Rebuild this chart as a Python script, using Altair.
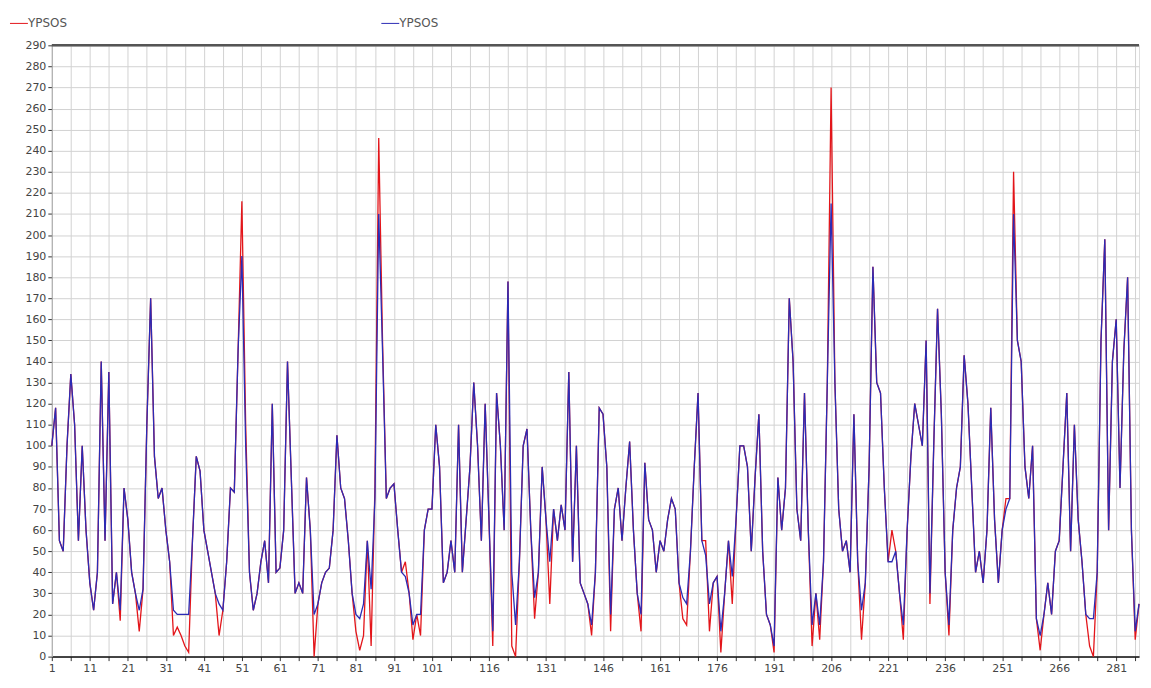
import altair as alt
import pandas as pd

# ---- data ----
index = list(range(1, 288))

blue = [
    100, 118, 55, 50, 100, 134, 110, 55, 100, 60,
    35, 22, 40, 140, 55, 135, 25, 40, 22, 80,
    65, 40, 30, 22, 32, 110, 170, 95, 75, 80,
    60, 45, 22, 20, 20, 20, 20, 55, 95, 88,
    60, 50, 40, 30, 25, 22, 45, 80, 78, 145,
    190, 100, 40, 22, 30, 45, 55, 35, 120, 40,
    42, 60, 140, 85, 30, 35, 30, 85, 60, 20,
    25, 35, 40, 42, 60, 105, 80, 75, 55, 30,
    20, 18, 25, 55, 32, 75, 210, 145, 75, 80,
    82, 60, 40, 38, 30, 15, 20, 20, 60, 70,
    70, 110, 90, 35, 40, 55, 40, 110, 40, 65,
    90, 130, 100, 55, 120, 65, 12, 125, 100, 60,
    178, 40, 15, 45, 100, 108, 60, 28, 40, 90,
    65, 45, 70, 55, 72, 60, 135, 45, 100, 35,
    30, 25, 15, 40, 118, 115, 90, 20, 70, 80,
    55, 80, 102, 60, 30, 20, 92, 65, 60, 40,
    55, 50, 65, 75, 70, 35, 28, 25, 50, 90,
    125, 55, 48, 25, 35, 38, 12, 30, 55, 38,
    65, 100, 100, 90, 50, 85, 115, 50, 20, 15,
    5, 85, 60, 80, 170, 140, 70, 55, 125, 60,
    15, 30, 15, 45, 130, 215, 130, 70, 50, 55,
    40, 115, 45, 22, 35, 90, 185, 130, 125, 80,
    45, 45, 50, 30, 15, 60, 95, 120, 110, 100,
    150, 30, 100, 165, 115, 40, 15, 60, 80, 90,
    143, 120, 80, 40, 50, 35, 60, 118, 65, 35,
    60, 70, 75, 210, 150, 140, 90, 75, 100, 18,
    10, 20, 35, 20, 50, 55, 90, 125, 50, 110,
    65, 45, 20, 18, 18, 40, 150, 198, 60, 140,
    160, 80, 145, 180, 60, 12, 25,
]

red = [
    100, 118, 55, 50, 100, 134, 110, 55, 100, 60,
    35, 22, 40, 140, 55, 135, 25, 40, 17, 80,
    65, 40, 30, 12, 32, 110, 170, 95, 75, 80,
    60, 45, 10, 14, 10, 5, 2, 55, 95, 88,
    60, 50, 40, 30, 10, 22, 45, 80, 78, 145,
    216, 110, 40, 22, 30, 45, 55, 35, 120, 40,
    42, 60, 140, 85, 30, 35, 30, 85, 60, 0,
    25, 35, 40, 42, 60, 105, 80, 75, 55, 30,
    12, 3, 10, 55, 5, 80, 246, 150, 75, 80,
    82, 60, 40, 45, 30, 8, 20, 10, 60, 70,
    70, 110, 90, 35, 40, 55, 40, 110, 40, 65,
    90, 130, 100, 55, 120, 65, 5, 125, 100, 60,
    178, 5, 0, 45, 100, 108, 60, 18, 40, 90,
    65, 25, 70, 55, 72, 60, 135, 45, 100, 35,
    30, 25, 10, 40, 118, 115, 90, 12, 70, 80,
    55, 80, 102, 60, 30, 12, 92, 65, 60, 40,
    55, 50, 65, 75, 70, 35, 18, 15, 50, 90,
    125, 55, 55, 12, 35, 38, 2, 30, 55, 25,
    65, 100, 100, 90, 50, 85, 115, 50, 20, 15,
    2, 85, 60, 80, 170, 140, 70, 55, 125, 60,
    5, 30, 8, 45, 130, 270, 130, 70, 50, 55,
    40, 115, 45, 8, 35, 90, 185, 130, 125, 80,
    45, 60, 50, 30, 8, 60, 95, 120, 110, 100,
    150, 25, 100, 165, 115, 40, 10, 60, 80, 90,
    143, 120, 80, 40, 50, 35, 60, 118, 65, 35,
    60, 75, 75, 230, 150, 140, 90, 75, 100, 18,
    3, 20, 35, 20, 50, 55, 90, 125, 50, 110,
    65, 45, 20, 5, 0, 40, 150, 198, 60, 140,
    160, 80, 145, 180, 60, 8, 25,
]

x_label_values = [1, 11, 21, 31, 41, 51, 61, 71, 81, 91, 101,
                  116, 131, 146, 161, 176, 191, 206, 221, 236, 251, 266, 281]
x_tick_values = list(range(1, 288, 5))
y_tick_values = list(range(0, 291, 10))
legend_names = ["YPSOS", "YPSOS"]
series_colors = ["#e3151a", "#2b2bb5"]

# ---- chart ----
df_red = pd.DataFrame({"i": index, "v": red})
df_blue = pd.DataFrame({"i": index, "v": blue})

label_list = ",".join(str(v) for v in x_label_values)
x_scale = alt.Scale(domain=[1, 287], nice=False, zero=False)
y_scale = alt.Scale(domain=[0, 290], nice=False)
x_axis = alt.Axis(
    values=x_tick_values,
    labelExpr=f"indexof([{label_list}], datum.value) >= 0 ? datum.label : ''",
    title=None, grid=True, gridColor="#d2d2d2", gridWidth=1,
    domainColor="#111111", domainWidth=1.5,
    tickColor="#333333", tickSize=4,
    labelFont="DejaVu Sans", labelFontSize=11, labelColor="#444444",
    labelPadding=2, labelFlush=False, labelOverlap=False,
)
y_axis = alt.Axis(
    values=y_tick_values, title=None, grid=True,
    gridColor="#d2d2d2", gridWidth=1,
    domainColor="#aaaaaa", tickColor="#333333", tickSize=4,
    labelFont="DejaVu Sans", labelFontSize=11, labelColor="#444444",
    labelPadding=2, labelOverlap=False, labelFlush=False,
)

def xe():
    return alt.X("i:Q", scale=x_scale, axis=x_axis)

def ye():
    return alt.Y("v:Q", scale=y_scale, axis=y_axis)

red_line = alt.Chart(df_red).mark_line(color=series_colors[0], strokeWidth=1.3).encode(x=xe(), y=ye())
blue_line = alt.Chart(df_blue).mark_line(color=series_colors[1], strokeWidth=1.3).encode(x=xe(), y=ye())

top_border = alt.Chart(pd.DataFrame({"v": [290]})).mark_rule(
    color="#555555", strokeWidth=2.5
).encode(y=ye())

leg_df = pd.DataFrame({"name": legend_names})
leg_layers = []
for k, (lx, tx) in enumerate([(-42, -24), (331, 349)]):
    leg_layers.append(
        alt.Chart(leg_df.iloc[[k]]).mark_rule(color=series_colors[k], strokeWidth=1).encode(
            x=alt.value(lx), x2=alt.value(tx), y=alt.value(-22)
        )
    )
    leg_layers.append(
        alt.Chart(leg_df.iloc[[k]]).mark_text(
            align="left", baseline="middle", font="DejaVu Sans", fontSize=12, color="#555555"
        ).encode(x=alt.value(tx), y=alt.value(-22), text="name:N")
    )

chart = alt.layer(red_line, blue_line, top_border, *leg_layers).properties(
    width=1092, height=614,
    autosize=alt.AutoSizeParams(type="none"),
    padding={"left": 44, "top": 36, "right": 4, "bottom": 22},
).configure_view(stroke=None).configure(background="#ffffff")

chart.save("out.html", embed_options={"renderer": "svg", "actions": False})
